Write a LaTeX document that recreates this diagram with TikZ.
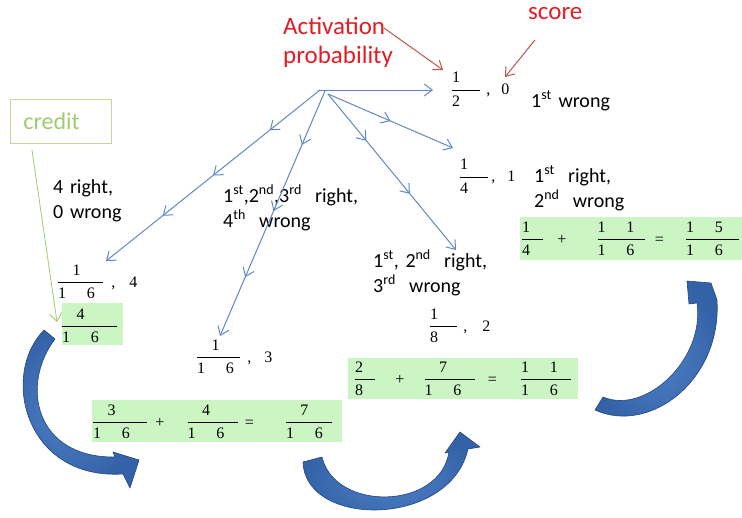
\documentclass[tikz,border=0pt]{standalone}
\usepackage{amsmath}
\usepackage{fontspec}
\setmainfont{Liberation Serif}
\newfontfamily\lblfont{Carlito}
\usetikzlibrary{arrows.meta,decorations.markings}
\definecolor{redtxt}{RGB}{228,28,36}
\definecolor{redarr}{RGB}{192,84,80}
\definecolor{bluearr}{RGB}{96,136,196}
\definecolor{greenbox}{RGB}{204,245,196}
\definecolor{creditgreen}{RGB}{160,204,110}
\definecolor{creditborder}{RGB}{196,214,156}
\definecolor{bigblue}{RGB}{52,98,168}
\definecolor{bigbluelight}{RGB}{78,128,196}
\definecolor{bigblueedge}{RGB}{36,70,124}
\newcommand\sixt{1\hspace{1.3em}6}
\newcommand\fr[3]{$\dfrac{\makebox[#1][l]{#2}}{\makebox[#1][l]{#3}}$}
\tikzset{bb/.tip={Straight Barb[length=8pt,width=12pt]}}
\begin{document}
\begin{tikzpicture}[x=1pt,y=-1pt,
  lbl/.style={font=\lblfont\fontsize{20}{25}\selectfont, inner sep=0pt, text width=170pt, align=left, anchor=base west},
  redlbl/.style={font=\lblfont\fontsize{25}{29}\selectfont, text=redtxt, inner sep=0pt, text width=130pt, align=left, anchor=base west},
  fracnode/.style={font=\fontsize{16}{19}\selectfont, inner sep=0pt, anchor=west},
  gbox/.style={fill=greenbox, draw=none, inner sep=0pt, anchor=north west},
  bline/.style={color=bluearr, line width=1pt},
  rline/.style={color=redarr, line width=1pt},
  bigarrow/.style={inner color=bigbluelight, outer color=bigblue, draw=bigblueedge, line width=0.6pt, line join=round}]
\useasboundingbox (0,0) rectangle (742,517);

% green boxes
\node[gbox, minimum width=222pt, minimum height=43pt] (g1) at (520,217) {};
\node[gbox, minimum width=230pt, minimum height=41pt] (g2) at (348,358) {};
\node[gbox, minimum width=250pt, minimum height=42pt] (g3) at (92,400) {};
\node[gbox, minimum width=61pt, minimum height=42pt] (g0) at (62,303) {};

% red labels
\node[redlbl] (act) at (283,34) {Activation\\probability};
\node[redlbl] (score) at (528,19) {score};
\coordinate (ra1) at (384,28);
\coordinate (ra2) at (443,70);
\coordinate (rs1) at (535,40);
\coordinate (rs2) at (505,77);
\draw[rline, -{bb}] (ra1) -- (ra2);
\draw[rline, -{bb}] (rs1) -- (rs2);

% fraction/score labels
\node[fracnode] (f12) at (450.8,89) {\fr{28pt}{1}{2}\hspace{5pt},\hspace{11pt}0};
\node[fracnode] (f14) at (458.8,176) {\fr{28pt}{1}{4}\hspace{2pt},\hspace{12pt}1};
\node[fracnode] (f18) at (428.8,326) {\fr{27pt}{1}{8}\hspace{5pt},\hspace{15pt}2};
\node[fracnode] (f16a) at (56.8,282) {\fr{45pt}{\hspace{0.9em}1}{\sixt}\hspace{7pt},\hspace{14pt}4};
\node[fracnode] (f16b) at (195.8,357) {\fr{43pt}{\hspace{0.9em}1}{\sixt}\hspace{6pt},\hspace{13pt}3};

% box contents
\node[fracnode] (e1) at (520.8,239) {\fr{21pt}{1}{4}\hspace{13pt}+\hspace{30pt}\fr{47pt}{1\hspace{1.3em}1}{\sixt}\hspace{9pt}=\hspace{21pt}\fr{53pt}{1\hspace{1.3em}5}{\sixt}};
\node[fracnode] (e2) at (353.8,379) {\fr{20pt}{2}{8}\hspace{19pt}+\hspace{19pt}\fr{50pt}{\hspace{0.9em}7}{\sixt}\hspace{12pt}=\hspace{23pt}\fr{50pt}{1\hspace{1.3em}1}{\sixt}};
\node[fracnode] (e3) at (91.8,422) {\fr{54pt}{\hspace{0.9em}3}{\sixt}\hspace{7pt}+\hspace{22pt}\fr{50pt}{\hspace{0.9em}4}{\sixt}\hspace{6pt}=\hspace{31pt}\fr{46pt}{\hspace{0.9em}7}{\sixt}};
\node[fracnode] (e0) at (60.8,326) {\fr{55pt}{\hspace{0.9em}4}{\sixt}};

% black labels
\node[lbl] (w1) at (531,107) {1\textsuperscript{st} wrong};
\node[lbl] (w2) at (534,182) {1\textsuperscript{st}\ \ right,\\2\textsuperscript{nd}\ \ wrong};
\node[lbl] (w3) at (373,267) {1\textsuperscript{st}, 2\textsuperscript{nd}\ \ right,\\3\textsuperscript{rd}\ \ wrong};
\node[lbl] (w4) at (53,193) {4 right,\\0 wrong};
\node[lbl] (w5) at (223,202) {1\textsuperscript{st},2\textsuperscript{nd},3\textsuperscript{rd}\ \ right,\\4\textsuperscript{th}\ \ wrong};

% credit
\node[draw=creditborder, line width=0.8pt, anchor=north west, minimum width=101pt, minimum height=44pt, text width=75pt, inner xsep=13pt, align=left, font=\lblfont\fontsize{24}{29}\selectfont, text=creditgreen] (credit) at (10,99) {credit};
\coordinate (cr1) at (32,150);
\coordinate (cr2) at (57,322);
\draw[color=creditgreen, line width=0.8pt, -{bb}] (cr1) -- (cr2);

% blue tree connectors
\coordinate (rA) at (318,90);
\coordinate (rB) at (328,94);
\coordinate (rD) at (325,91);
\coordinate (rE) at (320,90);
\coordinate (eA) at (433,90);
\coordinate (eB) at (453,148);
\coordinate (eC) at (456,250);
\coordinate (eD) at (220,336);
\coordinate (eE) at (106,261);
\draw[bline, -{bb}] (rA) -- (eA);
\draw[bline, -{bb}, decoration={markings, mark=at position 0.5 with {\arrow{bb}}}, postaction={decorate}] (rB) -- (eB);
\draw[bline, -{bb}, decoration={markings, mark=at position 0.3 with {\arrow{bb}}, mark=at position 0.64 with {\arrow{bb}}}, postaction={decorate}] (rB) -- (eC);
\draw[bline, -{bb}, decoration={markings, mark=at position 0.22 with {\arrow{bb}}, mark=at position 0.49 with {\arrow{bb}}, mark=at position 0.76 with {\arrow{bb}}}, postaction={decorate}] (rD) -- (eD);
\draw[bline, -{bb}, decoration={markings, mark=at position 0.235 with {\arrow{bb}}, mark=at position 0.5 with {\arrow{bb}}, mark=at position 0.735 with {\arrow{bb}}}, postaction={decorate}] (rE) -- (eE);

% big curved arrows
\path[bigarrow] (44,330) .. controls (0,375) and (25,480) .. (123,474)
  -- (130,488) -- (139,460) -- (113,452) -- (115,457)
  .. controls (35,458) and (20,385) .. (55,339) -- cycle;
\path[bigarrow] (303,462) .. controls (305,528) and (450,528) .. (468,449)
  -- (480,447) -- (460,432) -- (445,453) -- (449,452)
  .. controls (440,510) and (335,512) .. (322,457) -- cycle;
\path[bigarrow] (595,410) .. controls (650,435) and (722,380) .. (717,300)
  -- (711,283) -- (687,281) -- (689,304) -- (697,303)
  .. controls (705,360) and (645,415) .. (603,397) -- cycle;
\end{tikzpicture}
\end{document}
